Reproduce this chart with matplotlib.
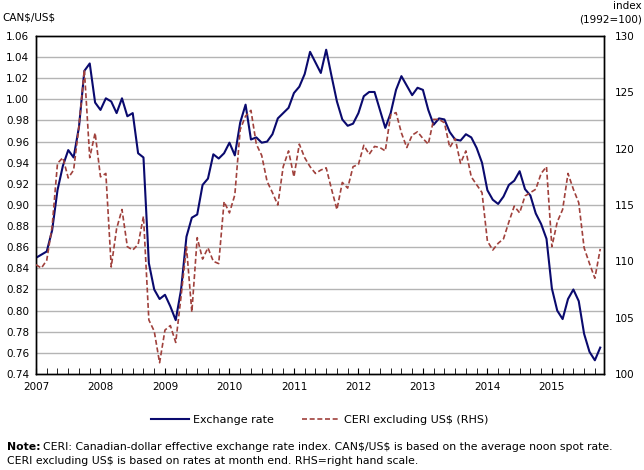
import matplotlib
matplotlib.use("Agg")
import matplotlib.pyplot as plt
import numpy as np

# monthly, Jan 2007 - Oct 2015
exchange_rate = [
    0.850, 0.853, 0.856, 0.876, 0.914, 0.937, 0.952, 0.945, 0.974, 1.027,
    1.034, 0.997, 0.990, 1.001, 0.998, 0.987, 1.001, 0.984, 0.987, 0.949,
    0.945, 0.845, 0.820, 0.811, 0.815, 0.804, 0.791, 0.820, 0.870, 0.888,
    0.891, 0.919, 0.925, 0.948, 0.944, 0.949, 0.959, 0.947, 0.978, 0.995,
    0.962, 0.964, 0.959, 0.960, 0.967, 0.982, 0.987, 0.992, 1.006, 1.012,
    1.024, 1.045, 1.035, 1.025, 1.047, 1.022, 0.998, 0.981, 0.975, 0.977,
    0.987, 1.003, 1.007, 1.007, 0.990, 0.973, 0.987, 1.009, 1.022, 1.013,
    1.004, 1.011, 1.009, 0.990, 0.976, 0.982, 0.981, 0.969, 0.962, 0.961,
    0.967, 0.964, 0.954, 0.940, 0.914, 0.905, 0.901, 0.908, 0.919, 0.923,
    0.932, 0.915, 0.909, 0.892, 0.882, 0.868, 0.821, 0.800, 0.792, 0.811,
    0.820, 0.809, 0.778, 0.761, 0.753, 0.765,
]
ceri_ex_us = [
    109.7, 109.4, 110.1, 113.1, 118.7, 119.2, 117.4, 118.1, 122.0, 127.0,
    119.2, 121.4, 117.5, 117.8, 109.5, 112.9, 114.6, 111.3, 111.0, 111.5,
    114.0, 104.8, 103.8, 101.0, 103.9, 104.3, 102.8, 106.9, 111.3, 105.5,
    112.1, 110.2, 111.2, 110.0, 109.8, 115.3, 114.3, 115.9, 121.7, 122.9,
    123.4, 120.4, 119.4, 117.1, 116.1, 115.0, 118.4, 119.8, 117.5, 120.4,
    119.2, 118.4, 117.8, 118.1, 118.3, 116.4, 114.6, 117.0, 116.5, 118.4,
    118.6, 120.3, 119.5, 120.2, 120.1, 119.8, 123.0, 123.2, 121.4, 120.1,
    121.2, 121.5, 120.9, 120.4, 122.6, 122.6, 122.3, 120.1, 120.9, 118.7,
    119.8, 117.5, 116.8, 116.1, 111.8, 111.0, 111.6, 112.0, 113.5, 114.9,
    114.3, 115.8, 116.1, 116.4, 117.8, 118.4, 111.3, 113.5, 114.6, 117.8,
    116.4, 115.2, 111.2, 109.8, 108.5, 111.1,
]
years = ["2007", "2008", "2009", "2010", "2011", "2012", "2013", "2014", "2015"]

plt.rcParams["font.family"] = ["DejaVu Sans"]
plt.rcParams["font.size"] = 7.5

navy = "#0a0a6e"
brown = "#a0413c"
grid_col = "#b4b4b4"

months = np.arange(len(exchange_rate))

fig = plt.figure(figsize=(6.44, 4.70), dpi=100)
ax = fig.add_axes([36 / 644, 1 - 374 / 470, (604 - 36) / 644, (374 - 36) / 470])
ax2 = ax.twinx()

ax.plot(months, exchange_rate, color=navy, lw=1.5, label="Exchange rate", zorder=3)
ax2.plot(months, ceri_ex_us, color=brown, lw=1.2, ls=(0, (3, 1.6)),
         label="CERI excluding US\\$ (RHS)", zorder=3)

ax.set_xlim(0, 105.7)
ax.set_ylim(0.74, 1.06)
ax2.set_ylim(100, 130)

ax.set_yticks(np.arange(0.74, 1.0601, 0.02))
ax.set_yticklabels([f"{v:.2f}" for v in np.arange(0.74, 1.0601, 0.02)])
ax2.set_yticks(np.arange(100, 131, 5))

ax.set_xticks(np.arange(0, 97, 12))
ax.set_xticklabels(years)
ax.set_xticks(np.arange(0, 106, 2), minor=True)

for y in np.arange(0.76, 1.05, 0.02):
    ax.axhline(y, color=grid_col, lw=1, zorder=1)

ax.tick_params(axis="y", length=0, pad=5)
ax2.tick_params(axis="y", length=0, pad=8)
ax.tick_params(axis="x", which="both", direction="in", length=4, pad=6)

for a in (ax, ax2):
    for s in a.spines.values():
        s.set_color("black")
        s.set_linewidth(1)

fig.text(2 / 644, 1 - 17 / 470, "CAN\\$/US\\$", ha="left", va="center")
fig.text(642 / 644, 1 - 6 / 470, "index", ha="right", va="center")
fig.text(642 / 644, 1 - 19 / 470, "(1992=100)", ha="right", va="center")

h1, l1 = ax.get_legend_handles_labels()
h2, l2 = ax2.get_legend_handles_labels()
fig.legend(h1 + h2, l1 + l2, loc="center", bbox_to_anchor=(320 / 644, 1 - 420 / 470),
           ncol=2, frameon=False, handlelength=3.4, handletextpad=0.4, columnspacing=2.5,
           fontsize=8)

fig.text(7 / 644, 1 - 447 / 470, "Note:", ha="left", va="center", fontweight="bold", fontsize=7.8)
fig.text(43 / 644, 1 - 447 / 470,
         "CERI: Canadian-dollar effective exchange rate index. CAN\\$/US\\$ is based on the average noon spot rate.",
         ha="left", va="center", fontsize=7.8)
fig.text(7 / 644, 1 - 461 / 470,
         "CERI excluding US\\$ is based on rates at month end. RHS=right hand scale.",
         ha="left", va="center", fontsize=7.8)

fig.savefig("out.png", dpi=100)
